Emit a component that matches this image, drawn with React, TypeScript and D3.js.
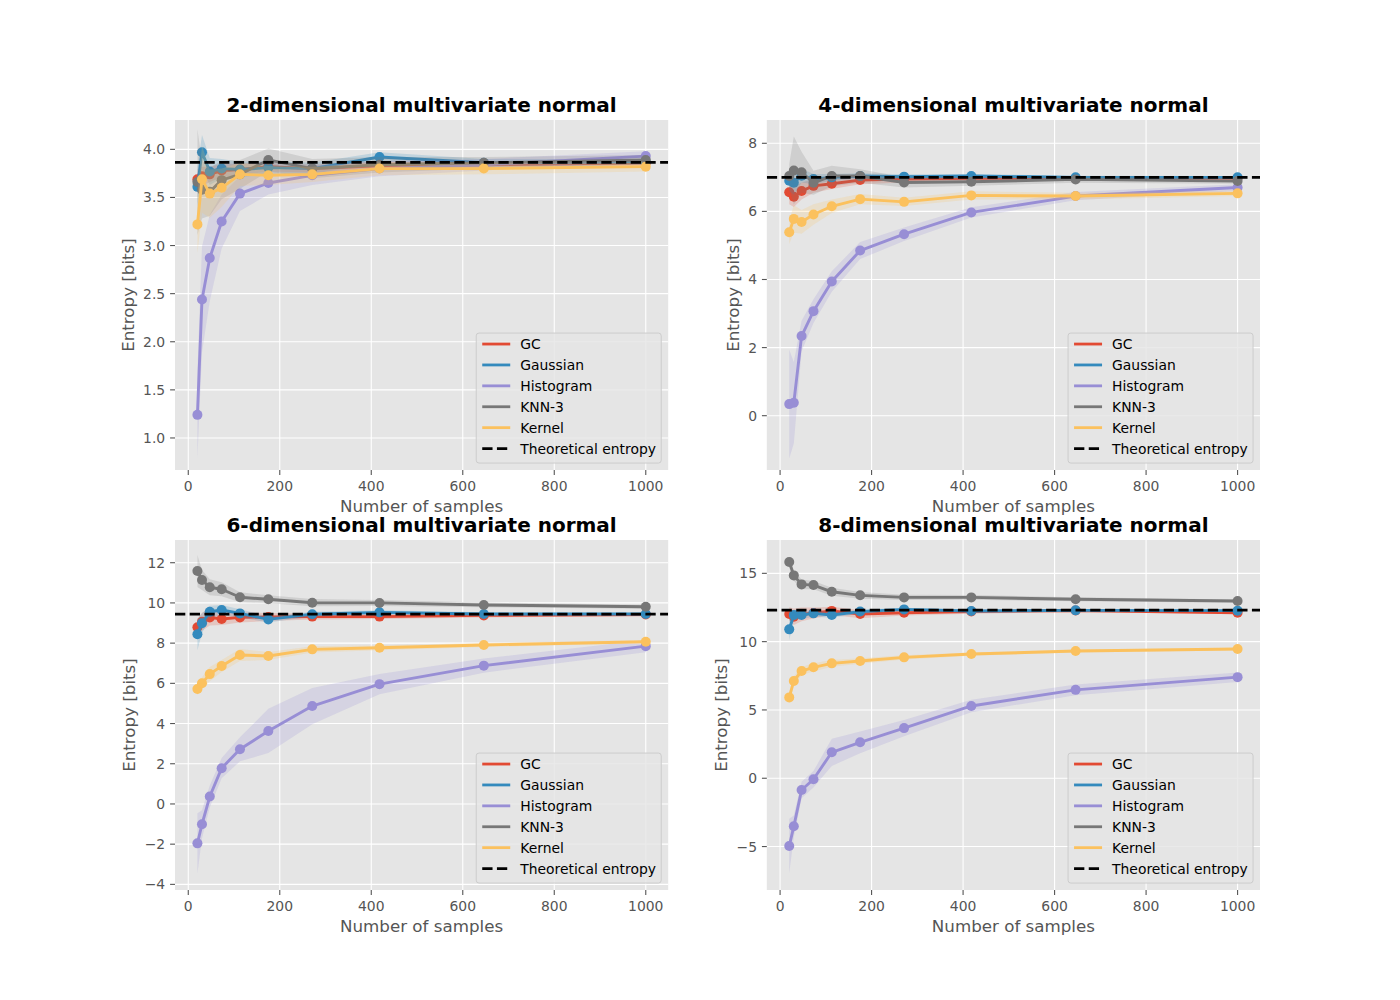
import React from "react";
import * as d3 from "d3";

// ---------- data ----------
const samples = [20, 30, 47, 73, 113, 175, 271, 418, 646, 1000];
const methodNames = ["GC", "Gaussian", "Histogram", "KNN-3", "Kernel"];
const methodColors = ["#E24A33", "#348ABD", "#988ED5", "#777777", "#FBC15E"];
const dimensions = [2, 4, 6, 8];
const theoreticalEntropy = [3.865, 7.0, 9.44, 12.31];
const xTicks = [0, 200, 400, 600, 800, 1000];
const xDomain = [-29, 1049];
const yTicks2d = [1.0, 1.5, 2.0, 2.5, 3.0, 3.5, 4.0];
const yTicks4d = [0, 2, 4, 6, 8];
const yTicks6d = [-4, -2, 0, 2, 4, 6, 8, 10, 12];
const yTicks8d = [-5, 0, 5, 10, 15];
const yDomain2d = [0.667, 4.305];
const yDomain4d = [-1.595, 8.684];
const yDomain6d = [-4.28, 13.13];
const yDomain8d = [-8.18, 17.44];

// 2-dimensional
const gc2 = [3.69, 3.72, 3.74, 3.78, 3.79, 3.82, 3.8, 3.83, 3.84, 3.86];
const gauss2 = [3.61, 3.97, 3.77, 3.8, 3.79, 3.81, 3.8, 3.92, 3.86, 3.87];
const hist2 = [1.24, 2.44, 2.87, 3.25, 3.54, 3.65, 3.73, 3.8, 3.84, 3.93];
const knn2 = [3.66, 3.58, 3.56, 3.68, 3.74, 3.89, 3.8, 3.84, 3.86, 3.89];
const kern2 = [3.22, 3.69, 3.54, 3.6, 3.74, 3.73, 3.74, 3.8, 3.8, 3.82];
const gc2Sd = [0.1, 0.1, 0.08, 0.07, 0.06, 0.05, 0.04, 0.04, 0.03, 0.03];
const gauss2Sd = [0.2, 0.18, 0.14, 0.1, 0.08, 0.07, 0.06, 0.05, 0.04, 0.03];
const hist2Sd = [0.45, 0.55, 0.45, 0.28, 0.18, 0.12, 0.1, 0.08, 0.06, 0.05];
const knn2Sd = [0.55, 0.3, 0.25, 0.2, 0.15, 0.12, 0.1, 0.08, 0.06, 0.05];
const kern2Sd = [0.3, 0.35, 0.25, 0.2, 0.12, 0.1, 0.08, 0.07, 0.06, 0.05];

// 4-dimensional
const gc4 = [6.56, 6.43, 6.6, 6.75, 6.81, 6.92, 6.95, 6.97, 6.97, 6.98];
const gauss4 = [6.9, 6.84, 7.05, 6.95, 7.0, 7.04, 7.02, 7.04, 7.0, 7.0];
const hist4 = [0.34, 0.38, 2.34, 3.07, 3.94, 4.85, 5.33, 5.97, 6.45, 6.7];
const knn4 = [7.04, 7.2, 7.15, 6.84, 7.04, 7.04, 6.85, 6.87, 6.94, 6.89];
const kern4 = [5.39, 5.78, 5.69, 5.91, 6.15, 6.36, 6.28, 6.47, 6.45, 6.53];
const gc4Sd = [0.35, 0.3, 0.25, 0.2, 0.15, 0.12, 0.1, 0.08, 0.06, 0.05];
const gauss4Sd = [0.3, 0.35, 0.2, 0.15, 0.1, 0.08, 0.07, 0.06, 0.05, 0.04];
const hist4Sd = [1.6, 1.2, 0.45, 0.35, 0.3, 0.25, 0.2, 0.15, 0.12, 0.1];
const knn4Sd = [0.35, 1.0, 0.6, 0.35, 0.3, 0.2, 0.15, 0.12, 0.1, 0.08];
const kern4Sd = [0.35, 0.4, 0.35, 0.3, 0.2, 0.15, 0.12, 0.12, 0.1, 0.08];

// 6-dimensional
const gc6 = [8.79, 9.06, 9.28, 9.2, 9.28, 9.3, 9.32, 9.32, 9.38, 9.42];
const gauss6 = [8.44, 8.99, 9.56, 9.65, 9.48, 9.18, 9.44, 9.53, 9.45, 9.45];
const hist6 = [-1.96, -1.01, 0.37, 1.78, 2.72, 3.63, 4.87, 5.96, 6.88, 7.85];
const knn6 = [11.59, 11.14, 10.78, 10.68, 10.28, 10.18, 10.01, 10.0, 9.9, 9.81];
const kern6 = [5.72, 6.0, 6.46, 6.86, 7.41, 7.36, 7.69, 7.77, 7.91, 8.07];
const gc6Sd = [0.4, 0.45, 0.4, 0.3, 0.25, 0.2, 0.15, 0.12, 0.1, 0.08];
const gauss6Sd = [0.8, 0.5, 0.3, 0.25, 0.2, 0.15, 0.12, 0.1, 0.08, 0.06];
const hist6Sd = [1.5, 0.7, 0.55, 0.5, 0.6, 1.1, 0.9, 0.5, 0.35, 0.3];
const knn6Sd = [0.8, 0.5, 0.4, 0.35, 0.25, 0.2, 0.18, 0.15, 0.12, 0.1];
const kern6Sd = [0.3, 0.3, 0.35, 0.3, 0.3, 0.2, 0.15, 0.12, 0.1, 0.08];

// 8-dimensional
const gc8 = [12.02, 11.82, 12.0, 12.1, 12.25, 12.02, 12.12, 12.2, 12.28, 12.12];
const gauss8 = [10.9, 11.95, 11.95, 12.07, 11.95, 12.2, 12.36, 12.24, 12.29, 12.27];
const hist8 = [-4.96, -3.52, -0.86, -0.07, 1.9, 2.63, 3.67, 5.29, 6.47, 7.4];
const knn8 = [15.83, 14.85, 14.19, 14.14, 13.65, 13.39, 13.24, 13.24, 13.1, 12.97];
const kern8 = [5.92, 7.12, 7.85, 8.12, 8.41, 8.58, 8.85, 9.09, 9.31, 9.46];
const gc8Sd = [0.5, 0.6, 0.5, 0.4, 0.3, 0.3, 0.2, 0.15, 0.12, 0.1];
const gauss8Sd = [0.8, 0.4, 0.3, 0.25, 0.2, 0.15, 0.12, 0.1, 0.08, 0.06];
const hist8Sd = [2.0, 0.8, 0.6, 0.6, 1.0, 0.8, 0.6, 0.45, 0.4, 0.35];
const knn8Sd = [0.4, 0.4, 0.35, 0.3, 0.3, 0.25, 0.2, 0.18, 0.15, 0.12];
const kern8Sd = [0.4, 0.35, 0.3, 0.3, 0.25, 0.2, 0.15, 0.12, 0.1, 0.1];

const panelMeans = [
  [gc2, gauss2, hist2, knn2, kern2],
  [gc4, gauss4, hist4, knn4, kern4],
  [gc6, gauss6, hist6, knn6, kern6],
  [gc8, gauss8, hist8, knn8, kern8],
];
const panelSds = [
  [gc2Sd, gauss2Sd, hist2Sd, knn2Sd, kern2Sd],
  [gc4Sd, gauss4Sd, hist4Sd, knn4Sd, kern4Sd],
  [gc6Sd, gauss6Sd, hist6Sd, knn6Sd, kern6Sd],
  [gc8Sd, gauss8Sd, hist8Sd, knn8Sd, kern8Sd],
];
const panelYTicks = [yTicks2d, yTicks4d, yTicks6d, yTicks8d];
const panelYDomains = [yDomain2d, yDomain4d, yDomain6d, yDomain8d];

// ---------- layout ----------
const W = 1400;
const H = 1000;
const FIG_LEFT = 0.125 * W;
const FIG_RIGHT = 0.9 * W;
const FIG_TOP = (1 - 0.88) * H;
const FIG_BOTTOM = (1 - 0.11) * H;
const AX_W = (FIG_RIGHT - FIG_LEFT) / 2.2;
const AX_H = (FIG_BOTTOM - FIG_TOP) / 2.2;
const FONT = "DejaVu Sans, sans-serif";
const TICK_FS = 13.9;
const LABEL_FS = 16.7;
const TITLE_FS = 20;
const TEXT_COLOR = "#555555";
const LINE_W = 2.9;
const MARKER_R = 5;
const DASH = "10.3 4.4";

const charW: Record<string, number> = { ".": 0.318, "−": 0.838, "-": 0.361 };
const textWidth = (s: string, fs: number) =>
  s.split("").reduce((a, c) => a + (charW[c] ?? 0.636) * fs, 0);

const fmtTick = (v: number, ticks: number[]) => {
  const step = ticks[1] - ticks[0];
  const s = step < 1 ? v.toFixed(1) : String(v);
  return s.replace("-", "−");
};

function Panel({ p }: { p: number }) {
  const col = p % 2;
  const row = Math.floor(p / 2);
  const left = FIG_LEFT + col * AX_W * 1.2;
  const top = FIG_TOP + row * AX_H * 1.2;
  const right = left + AX_W;
  const bottom = top + AX_H;
  const x = d3.scaleLinear().domain(xDomain).range([left, right]);
  const y = d3.scaleLinear().domain(panelYDomains[p]).range([bottom, top]);
  const yTicks = panelYTicks[p];
  const yLabels = yTicks.map((t) => fmtTick(t, yTicks));
  const maxW = Math.max(...yLabels.map((s) => textWidth(s, TICK_FS)));
  const yLabelX = left - 9.8 - maxW - 5.6 - 9.7;

  const means = panelMeans[p];
  const sds = panelSds[p];

  const legW = 185;
  const legH = 130;
  const legX = right - 6.95 - legW;
  const legY = bottom - 6.95 - legH;
  const legendItems = [
    ...methodNames.map((n, i) => ({ n, c: methodColors[i], dash: undefined as string | undefined })),
    { n: "Theoretical entropy", c: "#000000", dash: DASH },
  ];

  const clipId = `clip${p}`;

  return (
    <g>
      <defs>
        <clipPath id={clipId}>
          <rect x={left} y={top} width={AX_W} height={AX_H} />
        </clipPath>
      </defs>
      <rect x={left} y={top} width={AX_W} height={AX_H} fill="#E5E5E5" />
      {xTicks.map((t) => (
        <line key={"gx" + t} x1={x(t)} x2={x(t)} y1={top} y2={bottom} stroke="#FFFFFF" strokeWidth={1.1} />
      ))}
      {yTicks.map((t) => (
        <line key={"gy" + t} x1={left} x2={right} y1={y(t)} y2={y(t)} stroke="#FFFFFF" strokeWidth={1.1} />
      ))}
      <g clipPath={`url(#${clipId})`}>
        {means.map((m, i) => {
          const sd = sds[i];
          const area = d3
            .area<number>()
            .x((_, k) => x(samples[k]))
            .y0((d, k) => y(d - sd[k]))
            .y1((d, k) => y(d + sd[k]));
          const line = d3
            .line<number>()
            .x((_, k) => x(samples[k]))
            .y((d) => y(d));
          return (
            <g key={methodNames[i]}>
              <path d={area(m) || ""} fill={methodColors[i]} fillOpacity={0.2} stroke="none" />
              <path d={line(m) || ""} fill="none" stroke={methodColors[i]} strokeWidth={LINE_W} strokeLinejoin="round" />
              {m.map((d, k) => (
                <circle key={k} cx={x(samples[k])} cy={y(d)} r={MARKER_R} fill={methodColors[i]} />
              ))}
            </g>
          );
        })}
        <line
          x1={left}
          x2={right}
          y1={y(theoreticalEntropy[p])}
          y2={y(theoreticalEntropy[p])}
          stroke="#000000"
          strokeWidth={2.8}
          strokeDasharray={DASH}
        />
      </g>
      {/* x ticks */}
      {xTicks.map((t) => (
        <g key={"xt" + t}>
          <line x1={x(t)} x2={x(t)} y1={bottom} y2={bottom + 4.9} stroke={TEXT_COLOR} strokeWidth={1.1} />
          <text
            x={x(t)}
            y={bottom + 20.5}
            textAnchor="middle"
            fontSize={TICK_FS}
            fill={TEXT_COLOR}
            fontFamily={FONT}
          >
            {String(t)}
          </text>
        </g>
      ))}
      {yTicks.map((t, i) => (
        <g key={"yt" + t}>
          <line x1={left - 4.9} x2={left} y1={y(t)} y2={y(t)} stroke={TEXT_COLOR} strokeWidth={1.1} />
          <text
            x={left - 9.8}
            y={y(t)}
            dy="0.36em"
            textAnchor="end"
            fontSize={TICK_FS}
            fill={TEXT_COLOR}
            fontFamily={FONT}
          >
            {yLabels[i]}
          </text>
        </g>
      ))}
      <text
        x={(left + right) / 2}
        y={bottom + 42}
        textAnchor="middle"
        fontSize={LABEL_FS}
        fill={TEXT_COLOR}
        fontFamily={FONT}
      >
        Number of samples
      </text>
      <text
        transform={`translate(${yLabelX},${(top + bottom) / 2}) rotate(-90)`}
        textAnchor="middle"
        dominantBaseline="central"
        fontSize={LABEL_FS}
        fill={TEXT_COLOR}
        fontFamily={FONT}
      >
        Entropy [bits]
      </text>
      <text
        x={(left + right) / 2}
        y={top - 8.3}
        textAnchor="middle"
        fontSize={TITLE_FS}
        fontWeight="bold"
        fill="#000000"
        fontFamily={FONT}
      >
        {`${dimensions[p]}-dimensional multivariate normal`}
      </text>
      {/* legend */}
      <rect
        x={legX}
        y={legY}
        width={legW}
        height={legH}
        rx={2.8}
        fill="#E5E5E5"
        fillOpacity={0.8}
        stroke="#CCCCCC"
        strokeWidth={1}
      />
      {legendItems.map((it, i) => {
        const cy = legY + 11 + i * 20.9;
        return (
          <g key={it.n}>
            <line
              x1={legX + 6}
              x2={legX + 34}
              y1={cy}
              y2={cy}
              stroke={it.c}
              strokeWidth={2.8}
              strokeDasharray={it.dash}
            />
            <text x={legX + 44} y={cy} dy="0.36em" fontSize={TICK_FS} fill="#000000" fontFamily={FONT}>
              {it.n}
            </text>
          </g>
        );
      })}
    </g>
  );
}

export default function App() {
  return (
    <svg
      width={W}
      height={H}
      viewBox={`0 0 ${W} ${H}`}
      style={{ position: "absolute", left: 0, top: 0, background: "#FFFFFF" }}
    >
      <rect x={0} y={0} width={W} height={H} fill="#FFFFFF" />
      {dimensions.map((_, p) => (
        <Panel key={p} p={p} />
      ))}
    </svg>
  );
}
